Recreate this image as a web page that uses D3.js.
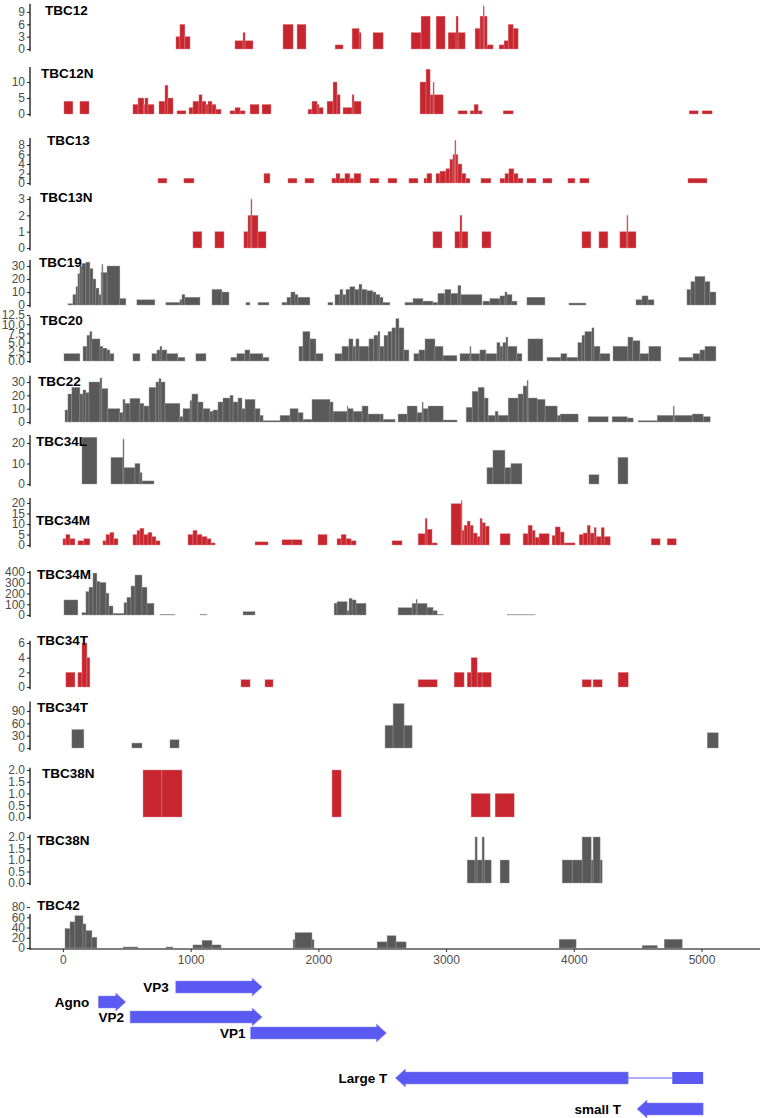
<!DOCTYPE html>
<html>
<head>
<meta charset="utf-8">
<script src="https://cdn.jsdelivr.net/npm/d3@7"></script>
<style>
  body { margin: 0; background: #fff; }
  svg text { font-family: "Liberation Sans", Arial, sans-serif; }
  .tick text { fill: #4d4d4d; font-size: 12px; }
  .ptitle { font-weight: bold; font-size: 13.5px; fill: #000; }
  .glabel { font-weight: bold; font-size: 13.5px; fill: #000; }
</style>
</head>
<body>
<div id="chart"></div>
<script>
// ---- data: coverage segments [start, end, depth] ----
var panelNames = ["TBC12", "TBC12N", "TBC13", "TBC13N", "TBC19", "TBC20", "TBC22", "TBC34L",
    "TBC34M", "TBC34M", "TBC34T", "TBC34T", "TBC38N", "TBC38N", "TBC42"];
var panelKind = ["red", "red", "red", "red", "grey", "grey", "grey", "grey",
    "red", "grey", "red", "grey", "red", "grey", "grey"];
var panelTicks = [[0, 3, 6, 9], [0, 5, 10], [0, 2, 4, 6, 8], [0, 1, 2, 3], [0, 10, 20, 30],
    [0, 2.5, 5, 7.5, 10, 12.5], [0, 10, 20, 30], [0, 10, 20], [0, 5, 10, 15, 20],
    [0, 100, 200, 300, 400], [0, 2, 4, 6], [0, 30, 60, 90], [0, 0.5, 1, 1.5, 2],
    [0, 0.5, 1, 1.5, 2], [0, 20, 40, 60, 80]];
var xTicks = [0, 1000, 2000, 3000, 4000, 5000];

var tbc12 = [[885,916,3],[916,955,6],[955,995,3],[1347,1410,2],[1410,1426,4],[1426,1488,2],
    [1723,1802,6],[1833,1903,6],[2131,2193,1],[2264,2319,5],[2319,2334,4],[2428,2507,4],
    [2726,2804,4],[2804,2875,8],[2922,2992,8],[3016,3078,4],[3078,3094,8],[3094,3149,4],
    [3227,3266,5],[3266,3290,8],[3290,3298,10.5],[3298,3321,8],[3321,3368,1],
    [3415,3454,1],[3454,3486,2],[3486,3525,6],[3525,3564,5]];
var tbc12n = [[8,78,4],[133,204,4],[548,588,3],[588,634,5],[634,642,3],[642,666,5],[666,713,3],
    [752,799,4],[799,822,9],[822,862,5],[893,963,1],[987,1018,2],[1018,1065,4],[1065,1089,6],
    [1089,1120,4],[1120,1136,3],[1136,1167,4],[1167,1198,3],[1198,1238,1.5],
    [1308,1347,1],[1347,1387,2],[1387,1426,1],[1465,1535,3],[1559,1629,3],
    [1919,1950,1.5],[1950,1990,4],[1990,2005,3],[2005,2037,2],[2068,2115,4],[2115,2146,10],
    [2146,2170,6],[2193,2264,2],[2264,2279,6],[2279,2334,4],[2796,2843,10],[2843,2875,14],
    [2875,2898,6],[2898,2906,10],[2906,2977,6],[3094,3165,1],[3188,3219,1],[3219,3251,3],
    [3251,3282,1],[3447,3525,1],[4903,4974,1],[5005,5083,1]];
var tbc13 = [[744,814,1],[947,1026,1],[1574,1621,2],[1762,1832,1],[1895,1965,1],
    [2106,2138,1],[2138,2169,2],[2169,2208,1],[2208,2247,2],[2247,2279,1],[2279,2333,2],
    [2404,2474,1],[2545,2615,1],[2709,2780,1],[2827,2850,1],[2850,2889,2],
    [2921,2952,2],[2952,2999,2.5],[2999,3030,3],[3030,3054,5],[3054,3069,6],[3069,3077,9],
    [3077,3093,6],[3093,3124,4],[3124,3155,2],[3155,3187,1],[3273,3351,1],
    [3422,3461,1],[3461,3492,2],[3492,3531,3],[3531,3563,2],[3563,3602,1],
    [3633,3704,1],[3758,3829,1],[3954,4009,1],[4048,4119,1],[4894,5043,1]];
var tbc13n = [[1018,1088,1],[1190,1261,1],[1417,1449,1],[1449,1472,2],[1472,1480,3],
    [1480,1527,2],[1527,1590,1],[2897,2968,1],[3069,3109,1],[3109,3124,2],[3124,3171,1],
    [3281,3351,1],[4064,4134,1],[4197,4267,1],[4361,4416,1],[4416,4424,2],[4424,4487,1]];
var tbc19 = [[39,78,1],[78,102,8],[102,117,14],[117,133,24],[133,149,30],[149,180,32],
    [180,211,33],[211,235,28],[235,258,20],[258,282,13],[282,298,8],[298,305,25],[305,313,31],
    [313,345,25],[345,446,30],[446,493,5],[579,720,4],[806,916,2],[916,932,4],[932,955,8],
    [955,1073,6],[1167,1245,12],[1245,1300,10],[1433,1464,2],[1527,1613,2],
    [1715,1754,2],[1754,1785,6],[1785,1817,10],[1817,1840,8],[1840,1934,6],
    [2075,2114,2],[2130,2169,8],[2169,2192,12],[2192,2216,8],[2216,2247,12],[2247,2286,14],
    [2286,2318,12],[2318,2341,16],[2341,2380,12],[2380,2427,11],[2427,2451,10],[2451,2482,8],
    [2482,2506,6],[2506,2560,2],[2678,2741,2],[2741,2819,5],[2819,2897,3],[2897,2936,2],
    [2936,2991,9],[2991,3038,12],[3038,3093,9],[3093,3116,15],[3116,3281,8],
    [3289,3343,3],[3343,3422,5],[3422,3461,7],[3461,3477,10],[3477,3516,8],[3516,3555,3],
    [3633,3774,6],[3962,4095,1.5],[4487,4534,4],[4534,4581,7],[4581,4628,4],
    [4886,4917,12],[4917,4949,18],[4949,5027,22],[5027,5066,18],[5066,5113,10]];
var tbc20 = [[8,133,2],[157,188,4],[188,211,7],[211,227,8],[227,290,6],[290,313,4],
    [313,345,3.5],[345,368,3],[368,399,2],[548,603,2],[697,736,2],[736,760,3],[760,775,4],
    [775,814,3],[814,900,2],[900,955,1],[1041,1120,2],[1315,1362,1],[1362,1425,2],
    [1425,1464,3],[1464,1566,2],[1566,1613,1],[1848,1879,4],[1879,1934,8],[1934,1981,6],
    [1981,2036,2],[2130,2185,2],[2185,2239,4],[2239,2271,6],[2271,2294,4],[2294,2318,6],
    [2318,2396,4],[2396,2435,6],[2435,2467,7],[2467,2482,8],[2482,2514,4],[2514,2545,7],
    [2545,2576,8],[2576,2607,9],[2607,2631,11.5],[2631,2670,9],[2670,2709,3],
    [2748,2788,2],[2788,2835,3],[2835,2913,6],[2913,2976,4],[2976,3085,1.5],
    [3109,3187,2],[3187,3195,4],[3195,3265,2],[3265,3312,3],[3312,3398,2],[3398,3422,5],
    [3422,3445,4],[3445,3469,5],[3469,3484,6.5],[3484,3555,4],[3555,3594,2],[3641,3758,6],
    [3790,3899,1],[3899,3946,2],[3946,4032,1],[4032,4064,5],[4064,4087,7],[4087,4142,8],
    [4142,4158,9],[4158,4205,4],[4205,4283,2],[4307,4424,4],[4424,4463,6.5],[4463,4518,5.5],
    [4518,4588,2],[4588,4682,4],[4823,4933,1],[4933,4988,2],[4988,5027,3],[5027,5113,4]];
var tbc22 = [[16,39,9],[39,70,21],[70,133,26],[133,157,21],[157,180,24],[180,204,22],
    [204,290,30],[290,305,33],[305,352,25],[352,446,10],[446,470,7],[470,486,17],[486,525,14],
    [525,603,17.7],[603,634,14],[634,674,12],[674,728,26],[728,752,30],[752,768,32.5],
    [768,799,30],[799,916,14],[916,940,4],[940,995,10],[995,1010,16],[1010,1057,21],
    [1057,1097,15],[1097,1151,10],[1151,1175,8],[1175,1214,9],[1214,1253,15],[1253,1308,18],
    [1308,1332,20],[1332,1371,15],[1371,1402,18],[1402,1426,10],[1426,1504,17],[1504,1543,10],
    [1543,1567,5],[1567,1700,1],[1700,1778,5],[1778,1841,10],[1841,1880,7],[1880,1950,2],
    [1950,2091,17],[2091,2115,15],[2115,2225,8],[2225,2232,12],[2232,2272,10],[2272,2342,8],
    [2342,2389,12],[2389,2483,6],[2483,2507,6],[2507,2601,2],[2624,2695,6],[2695,2773,12],
    [2773,2812,7],[2812,2820,15],[2820,2859,10],[2859,2977,12],[2977,3086,1.5],
    [3157,3204,11],[3204,3251,23],[3251,3298,26],[3298,3329,18],[3329,3384,5],[3384,3407,8],
    [3407,3486,5],[3486,3564,18],[3564,3603,21],[3603,3634,27],[3634,3642,31],[3642,3713,18],
    [3713,3775,17],[3775,3870,12],[3870,3893,5],[3893,4034,6],[4112,4269,4],[4300,4418,4],
    [4418,4465,3],[4504,4653,1],[4653,4778,5],[4778,4786,12],[4786,4927,5],[4927,5013,6],
    [5013,5068,4]];
var tbc34l = [[149,266,22.8],[376,470,13],[470,478,22],[478,564,8],[564,603,10],[603,619,5.5],
    [619,713,1.5],[3320,3367,8],[3367,3461,16.5],[3461,3508,8],[3508,3594,10],
    [4119,4197,4.5],[4346,4424,13]];
var tbc34mRed = [[0,23,3],[23,55,5],[55,94,3],[117,164,2],[164,211,3],[313,337,2],[337,368,5],
    [368,399,6],[399,431,3],[548,580,5],[580,603,7],[603,634,8],[634,666,5],[666,697,6],
    [697,728,4],[728,760,2],[979,1018,5],[1018,1050,7],[1050,1089,5],[1089,1128,4],
    [1128,1159,3],[1159,1191,1],[1504,1606,1.5],[1715,1794,2.5],[1794,1872,2.5],[1997,2068,5],
    [2146,2178,3],[2178,2217,5],[2217,2256,3],[2256,2295,2],[2577,2655,2],[2781,2836,5.4],
    [2836,2851,12.7],[2851,2890,7.5],[2890,2930,1],[3039,3118,19.7],[3118,3125,21.3],
    [3125,3141,7],[3141,3165,9.4],[3165,3188,11.4],[3188,3212,9.4],[3212,3243,5.7],
    [3243,3266,4],[3266,3282,12.7],[3282,3306,10.6],[3306,3337,9],[3423,3501,5.4],
    [3603,3642,5.4],[3642,3674,9.4],[3674,3697,7],[3697,3728,3.7],[3728,3807,5.4],
    [3830,3854,4.5],[3854,3893,8.6],[3893,3924,6.2],[3924,4010,1],[4042,4073,5],
    [4073,4105,5.7],[4105,4128,9.4],[4128,4159,5.7],[4159,4175,8.3],[4175,4214,4],
    [4214,4238,8.3],[4238,4285,4],[4606,4676,3],[4731,4802,3]];
var tbc34mGrey = [[8,117,140],[149,180,22],[180,204,218],[204,235,259],[235,266,390],
    [266,290,312],[290,337,303],[337,360,203],[360,392,84],[392,478,15],[478,501,115],
    [501,533,165],[533,564,270],[564,619,372],[619,658,259],[658,713,109],[760,877,5],
    [1073,1128,5],[1410,1504,31],[2123,2146,110],[2146,2225,124],[2225,2240,40],
    [2240,2264,155],[2264,2295,140],[2295,2373,109],[2624,2734,68],[2734,2765,108],
    [2765,2773,146],[2773,2851,108],[2851,2898,71],[2898,2930,40],[2930,2977,6],
    [3478,3697,3]];
var tbc34tRed = [[23,94,2],[117,149,2],[149,188,6],[188,211,4],[1394,1465,1],[1582,1645,1],
    [2781,2930,1],[3063,3141,2],[3165,3196,2],[3196,3243,4],[3243,3282,2],[3282,3353,2],
    [4065,4136,1],[4151,4222,1],[4347,4426,2]];
var tbc34tGrey = [[70,164,45],[540,619,12],[838,909,20],[2522,2585,55],[2585,2671,108],
    [2671,2734,55],[5045,5131,37]];
var tbc38nRed = [[627,775,2],[775,932,2],[2107,2178,2],[3196,3345,1],[3384,3533,1]];
var tbc38nGrey = [[3165,3227,1],[3227,3243,2],[3243,3282,1],[3282,3298,2],[3298,3353,1],
    [3423,3494,1],[3909,3987,1],[3987,4065,1],[4065,4136,2],[4136,4151,1],[4151,4206,2],
    [4206,4222,1]];
var tbc42 = [[16,55,38],[55,94,51],[94,157,63],[157,180,47],[180,227,34],[227,266,21],
    [470,587,2],[807,862,2],[1018,1089,6],[1089,1167,15],[1167,1238,6],[1802,1817,16],
    [1817,1950,30],[1950,1966,16],[2460,2538,12],[2538,2608,24],[2608,2687,12],
    [3885,4018,17],[4535,4653,5],[4708,4849,17]];

var panelData = [tbc12, tbc12n, tbc13, tbc13n, tbc19, tbc20, tbc22, tbc34l,
    tbc34mRed, tbc34mGrey, tbc34tRed, tbc34tGrey, tbc38nRed, tbc38nGrey, tbc42];

// genes (JCPyV genome annotation)
var geneNames = ["VP3", "Agno", "VP2", "VP1", "Large T", "small T"];
var geneStart = [883, 277, 526, 1469, 2603, 4495];
var geneEnd = [1560, 492, 1560, 2533, 4426, 5013];
var geneStrand = ["+", "+", "+", "+", "-", "-"];
var largeTExon2 = [4771, 5013];

// ---- layout ----
var svgWidth = 760;
var svgHeight = 1118;
var panelBase = [49, 114, 183, 248, 305, 361, 422, 484, 545, 615, 687, 748, 817, 883, 948];
var panelTopPx = [12, 82, 145, 199, 266, 315, 382, 443, 503, 572, 643, 711, 770, 837, 907];
var titleX = [45, 41, 47, 40, 39, 40, 38, 36, 36, 37, 37, 37, 42, 37, 37];
var titleY = [10, 73, 140, 197, 262, 320, 381, 441, 520, 574, 640, 707, 773, 840, 905];
var geneY = [987, 1002, 1017, 1033, 1078, 1109];
var geneLabelGap = [7, 9, 6, 5, 8, 16];
var colors = { red: "#c7262f", grey: "#595959" };
var strokes = { red: "#e08a8f", grey: "#9a9a9a" };
var blue = "#5a5af3";

var svg = d3.select("#chart").append("svg")
    .attr("width", svgWidth)
    .attr("height", svgHeight);

svg.append("rect").attr("width", svgWidth).attr("height", svgHeight).attr("fill", "white");

var x = d3.scaleLinear().domain([-258, 5458]).range([30, 760]);

// panels
panelNames.forEach(function (name, i) {
    var data = panelData[i];
    var ticks = panelTicks[i];
    var base = panelBase[i];
    var y = d3.scaleLinear().domain([0, ticks[ticks.length - 1]]).range([base, panelTopPx[i]]);
    var maxV = d3.max(data, d => d[2]);
    var g = svg.append("g");

    g.selectAll("rect")
        .data(data)
        .enter()
        .append("rect")
        .attr("x", d => x(d[0]))
        .attr("width", d => Math.max(0.8, x(d[1]) - x(d[0])))
        .attr("y", d => y(d[2]))
        .attr("height", d => base - y(d[2]))
        .attr("fill", colors[panelKind[i]])
        .attr("stroke", strokes[panelKind[i]])
        .attr("stroke-width", 0.4);

    var isDecimal = ticks.some(t => t % 1 !== 0);
    var axis = d3.axisLeft(y)
        .tickValues(ticks)
        .tickSize(3)
        .tickPadding(2)
        .tickFormat(isDecimal ? d3.format(".1f") : d3.format("d"));

    var ag = g.append("g")
        .attr("transform", "translate(30,0)")
        .call(axis);
    ag.select(".domain").remove();
    ag.selectAll(".tick line").attr("stroke", "#333").attr("stroke-width", 1.1);

    // axis line spans the expanded data range
    g.append("line")
        .attr("x1", 30).attr("x2", 30)
        .attr("y1", y(-0.05 * maxV)).attr("y2", y(1.05 * maxV))
        .attr("stroke", "#000").attr("stroke-width", 1.2);

    g.append("text")
        .attr("class", "ptitle")
        .attr("x", titleX[i])
        .attr("y", titleY[i])
        .attr("dy", "0.35em")
        .text(name);
});

// x axis
var xAxis = d3.axisBottom(x).tickValues(xTicks).tickSize(3).tickPadding(3).tickFormat(d3.format("d"));
var xg = svg.append("g")
    .attr("transform", "translate(0,949)")
    .call(xAxis);
xg.select(".domain").attr("d", "M30,0H760").attr("stroke", "#000").attr("stroke-width", 1.2);
xg.selectAll(".tick line").attr("stroke", "#333");

// gene track
var bodyH = 12, headH = 18, headL = 10;
geneNames.forEach(function (name, i) {
    var cy = geneY[i];
    var x0 = x(geneStart[i]), x1 = x(geneEnd[i]);
    var pts;
    if (geneStrand[i] === "+") {
        pts = [[x0, cy - bodyH / 2], [x1 - headL, cy - bodyH / 2], [x1 - headL, cy - headH / 2],
            [x1, cy], [x1 - headL, cy + headH / 2], [x1 - headL, cy + bodyH / 2], [x0, cy + bodyH / 2]];
    } else {
        pts = [[x1, cy - bodyH / 2], [x0 + headL, cy - bodyH / 2], [x0 + headL, cy - headH / 2],
            [x0, cy], [x0 + headL, cy + headH / 2], [x0 + headL, cy + bodyH / 2], [x1, cy + bodyH / 2]];
    }
    svg.append("path")
        .attr("d", d3.line()(pts) + "Z")
        .attr("fill", blue)
        .attr("stroke", "#8c8cf7")
        .attr("stroke-width", 0.5);

    if (name === "Large T") {
        svg.append("line")
            .attr("x1", x1).attr("x2", x(largeTExon2[0]))
            .attr("y1", cy).attr("y2", cy)
            .attr("stroke", blue).attr("stroke-width", 1);
        svg.append("rect")
            .attr("x", x(largeTExon2[0]))
            .attr("y", cy - bodyH / 2)
            .attr("width", x(largeTExon2[1]) - x(largeTExon2[0]))
            .attr("height", bodyH)
            .attr("fill", blue);
    }

    svg.append("text")
        .attr("class", "glabel")
        .attr("x", x0 - geneLabelGap[i])
        .attr("y", cy)
        .attr("dy", "0.35em")
        .attr("text-anchor", "end")
        .text(name);
});
</script>
</body>
</html>
